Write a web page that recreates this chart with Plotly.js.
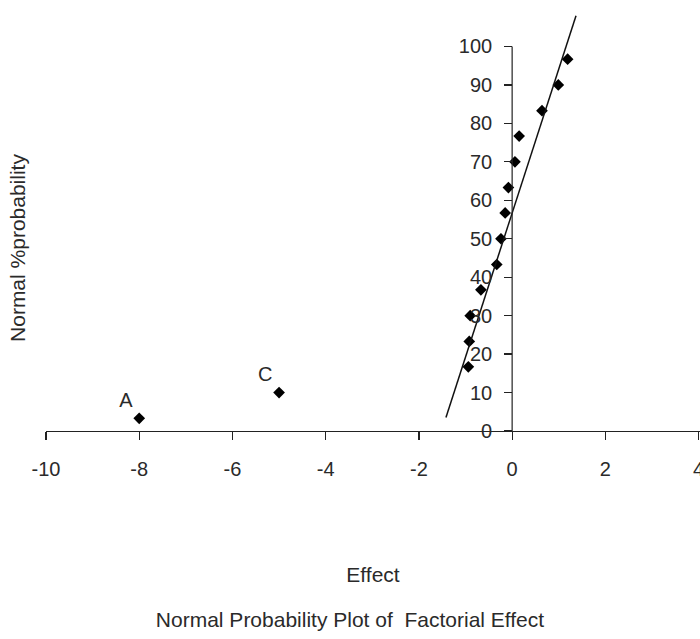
<!DOCTYPE html>
<html>
<head>
<meta charset="utf-8">
<script src="https://cdn.plot.ly/plotly-3.0.1.min.js"></script>
<style>html,body{margin:0;padding:0;background:#fff;}#chart{width:700px;height:639px;}</style>
</head>
<body>
<div id="chart"></div>
<script>
// Factorial effects (x) and normal % probability (y)
var effects = [-8.0, -5.0, -0.94, -0.92, -0.90, -0.67, -0.33, -0.24, -0.15, -0.08, 0.06, 0.15, 0.64, 0.99, 1.19];
var probability = [3.3, 10.0, 16.7, 23.3, 30.0, 36.7, 43.3, 50.0, 56.7, 63.3, 70.0, 76.7, 83.3, 90.0, 96.7];
var pointLabels = ["A", "C", "", "", "", "", "", "", "", "", "", "", "", "", ""];
// fitted line end points
var lineX = [-1.42, 1.37];
var lineY = [3.5, 108];
// ticks
var xTicks = [-10, -8, -6, -4, -2, 0, 2, 4];
var yTicks = [0, 10, 20, 30, 40, 50, 60, 70, 80, 90, 100];

var FONT = "Liberation Sans, Arial, Helvetica, sans-serif";
var TXT = "#2a2a2a";
var xRange = [-10, 4.03];
var yPos = (0 - xRange[0]) / (xRange[1] - xRange[0]);

var traces = [
  {
    x: effects, y: probability, text: pointLabels,
    type: "scatter", mode: "markers+text",
    textposition: "top left",
    textfont: {family: FONT, size: 20, color: TXT},
    marker: {symbol: "diamond", size: 9, color: "#000"},
    cliponaxis: false,
    hoverinfo: "x+y"
  },
  {
    x: lineX, y: lineY, type: "scatter", mode: "lines",
    line: {color: "#111", width: 1.5},
    hoverinfo: "skip"
  }
];

var layout = {
  width: 700, height: 639,
  margin: {l: 46, r: 0, t: 8, b: 208},
  paper_bgcolor: "#fff", plot_bgcolor: "#fff",
  showlegend: false,
  font: {family: FONT, size: 20, color: TXT},
  title: {
    text: "Normal Probability Plot of\u00a0 Factorial Effect",
    font: {family: FONT, size: 21, color: TXT},
    xref: "container", x: 0.5, xanchor: "center",
    yref: "container", y: 0.03, yanchor: "middle"
  },
  xaxis: {
    range: xRange, tickvals: xTicks, ticktext: xTicks.map(String),
    showline: true, linecolor: "#222", linewidth: 1.2,
    ticks: "outside", ticklen: 8, tickcolor: "#222", tickwidth: 1.2,
    ticklabelstandoff: 12,
    ticklabeloverflow: "allow",
    showgrid: false, zeroline: false,
    tickfont: {family: FONT, size: 20, color: TXT},
    title: {text: "Effect", standoff: 88, font: {family: FONT, size: 21, color: TXT}},
    automargin: false, fixedrange: true
  },
  yaxis: {
    range: [0, 110], tickvals: yTicks, ticktext: yTicks.map(String),
    anchor: "free", position: yPos,
    showline: false,
    ticks: "outside", ticklen: 8, tickcolor: "#222", tickwidth: 1.2,
    ticklabelstandoff: 8,
    showgrid: false, zeroline: false,
    tickfont: {family: FONT, size: 20, color: TXT},
    automargin: false, fixedrange: true
  },
  shapes: [
    {type: "line", xref: "x", yref: "y", x0: 0, x1: 0, y0: 0, y1: 100,
     line: {color: "#222", width: 1.2}}
  ],
  annotations: [
    {text: "Normal %probability", textangle: -90, showarrow: false,
     xref: "paper", x: 0, xshift: -28, xanchor: "center",
     yref: "y", y: 47.6, yanchor: "middle",
     font: {family: FONT, size: 21, color: TXT}}
  ]
};

Plotly.newPlot("chart", traces, layout, {displayModeBar: false, staticPlot: true});
</script>
</body>
</html>
